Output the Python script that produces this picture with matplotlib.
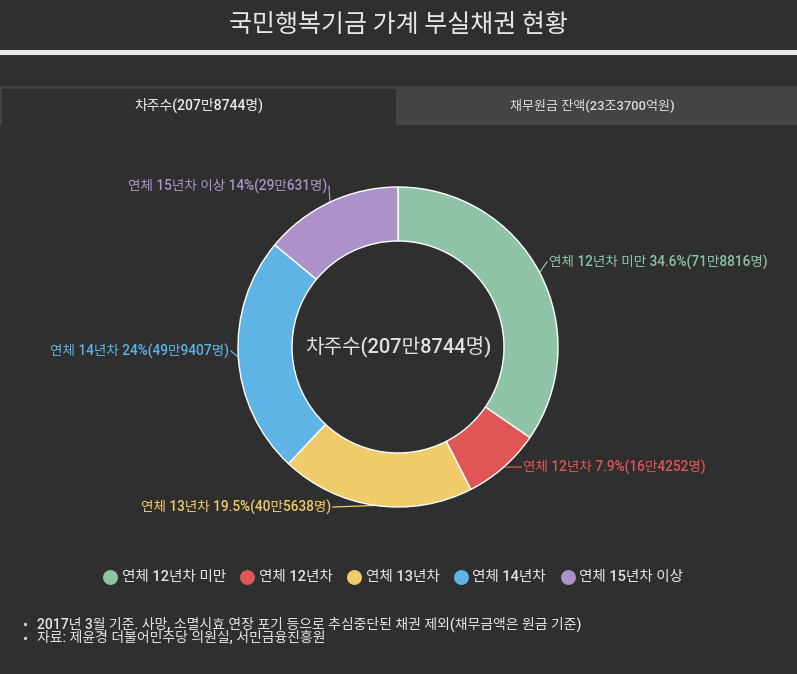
import matplotlib
matplotlib.use("Agg")
import matplotlib.pyplot as plt
import numpy as np

# data
categories = ["연체 12년차 미만", "연체 12년차", "연체 13년차", "연체 14년차", "연체 15년차 이상"]
counts = [718816, 164252, 405638, 499407, 290631]
pct_labels = ["34.6%", "7.9%", "19.5%", "24%", "14%"]
count_labels = ["71만8816명", "16만4252명", "40만5638명", "49만9407명", "29만631명"]
colors = ["#8ec3a7", "#e05556", "#f0cb69", "#5db4e5", "#ac92c8"]

title = "국민행복기금 가계 부실채권 현황"
tabs = ["차주수(207만8744명)", "채무원금 잔액(23조3700억원)"]
center_text = "차주수(207만8744명)"
notes = ["2017년 3월 기준. 사망, 소멸시효 연장 포기 등으로 추심중단된 채권 제외(채무금액은 원금 기준)",
         "자료: 제윤경 더불어민주당 의원실, 서민금융진흥원"]

BG = "#2f2f2f"
W, H = 797, 674
fig = plt.figure(figsize=(W / 100, H / 100), dpi=100, facecolor=BG)
ax = fig.add_axes([0, 0, 1, 1])
ax.set_xlim(0, W)
ax.set_ylim(H, 0)
ax.axis("off")
renderer = fig.canvas.get_renderer()

# roboto medium for digits, noto regular for hangul
MIX = dict(family=["Roboto", "Noto Sans CJK KR", "DejaVu Sans"], weight="medium")
KR = dict(family=["Noto Sans CJK KR", "DejaVu Sans"], weight="light")

# header and tabs
ax.axhspan(50, 55, color="#e8e8e8", lw=0)
ax.text(398, 25, title, fontsize=18, color="#e6e6e6", ha="center", va="center", **KR)
ax.axhspan(86, 125, color="#444444", lw=0)
ax.fill_between([2, 396], 89, 125, color="#303030", lw=0)
ax.text(199, 105, tabs[0], fontsize=10, color="#eeeeee", ha="center", va="center", **MIX)
ax.text(592, 105, tabs[1], fontsize=9.4, color="#dddddd", ha="center", va="center", **MIX)

# donut
cx, cy, R, Rin = 398, 347, 160, 106
pax = fig.add_axes([(cx - 170) / W, (H - cy - 170) / H, 340 / W, 340 / H])
wedges, _ = pax.pie(counts, colors=colors, startangle=90, counterclock=False, radius=R,
                    wedgeprops=dict(width=R - Rin, edgecolor="white", linewidth=1))
pax.set_xlim(-170, 170)
pax.set_ylim(-170, 170)
pax.set_aspect("equal")
pax.axis("off")

# data labels
label_pos = [(549, 262, "left"), (523, 467, "left"), (331, 507, "right"),
             (229, 351, "right"), (327, 186, "right")]
for w, cat, p, c, col, (lx, ly, ha) in zip(wedges, categories, pct_labels, count_labels,
                                          colors, label_pos):
    mid = np.deg2rad((w.theta1 + w.theta2) / 2)
    ex, ey = cx + R * np.cos(mid), cy - R * np.sin(mid)
    tx = lx - 2 if ha == "left" else lx + 2
    ax.plot([ex, tx], [ey, ly], color=col, lw=0.9)
    ax.text(lx, ly, f"{cat} {p}({c})", fontsize=9.8, color=col, ha=ha, va="center", **MIX)

ax.text(cx, cy, center_text, fontsize=14.5, color="#e0e0e0", ha="center", va="center", **MIX)

# legend: measure first, then center
leg_size = 10.5
texts = [ax.text(0, 577, cat, fontsize=leg_size, color="#e6e6e6", ha="left",
                 va="center", **MIX) for cat in categories]
widths = [t.get_window_extent(renderer).width for t in texts]
total = sum(19 + w for w in widths) + 14 * (len(categories) - 1)
x = 393 - total / 2
for t, col, w in zip(texts, colors, widths):
    ax.scatter([x + 7.5], [577], s=115, color=col, lw=0, zorder=3)
    t.set_x(x + 19)
    x += 19 + w + 14

# notes
for i, n in enumerate(notes):
    y = 624 + 14 * i
    ax.scatter([25], [y], s=6, color="#cccccc", lw=0)
    ax.text(37, y, n, fontsize=10, color="#e6e6e6", ha="left", va="center", **MIX)

fig.savefig("out.png", dpi=100, facecolor=BG)
